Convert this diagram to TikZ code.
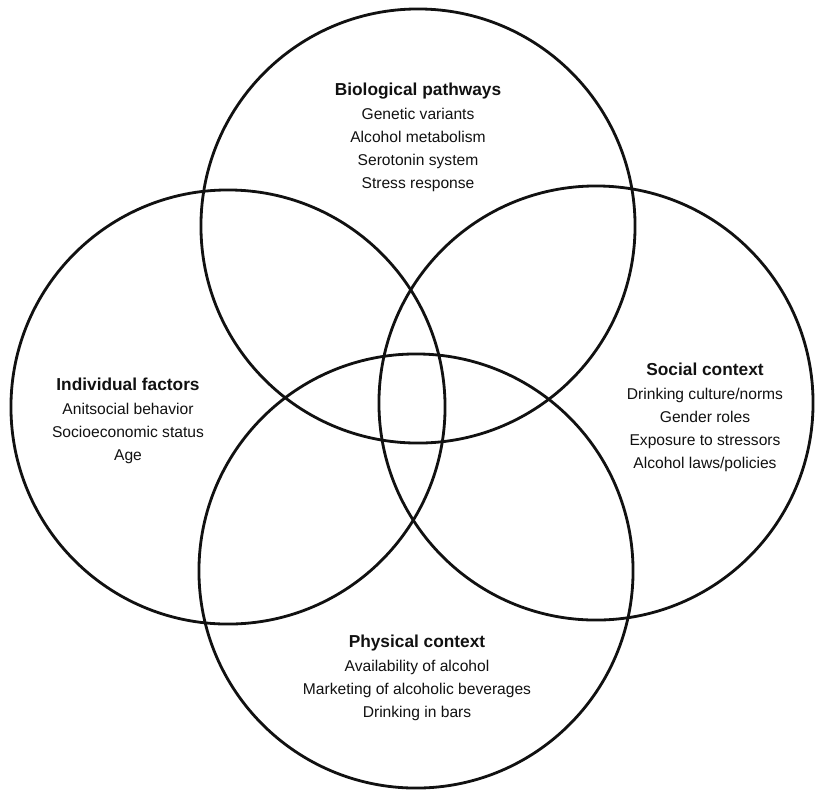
\documentclass[tikz,border=0pt]{standalone}
\usepackage{fontspec}
\setmainfont{Liberation Sans}
\usepackage{tikz}
\usetikzlibrary{positioning}
\definecolor{cRing}{HTML}{111111}
\definecolor{cText}{HTML}{111111}
\tikzset{
  ring/.style={
    draw=cRing, circle, line width=2pt,
    minimum size=10.85cm, inner sep=0pt,
  },
  factors/.style={
    align=center, anchor=north, inner sep=0pt, text=cText,
    font=\fontsize{11.1}{16.5}\selectfont,
  },
}
\newcommand{\grouphead}[1]{{\bfseries\fontsize{12.3}{16.5}\selectfont #1}}

\begin{document}
\begin{tikzpicture}[x=0.025cm, y=-0.025cm]

% ═══════════════════════════════════════════════════════════════
%  FRAME  (pixel units, y downwards)
% ═══════════════════════════════════════════════════════════════
\useasboundingbox (0,0) rectangle (815,792);

% ═══════════════════════════════════════════════════════════════
%  RINGS
% ═══════════════════════════════════════════════════════════════
\node[ring] (bio)  at (418,226) {};
\node[ring] (indiv) at (228,407) {};
\node[ring] (social) at (596,403) {};
\node[ring] (phys) at (416,571) {};

% ═══════════════════════════════════════════════════════════════
%  LABELS
% ═══════════════════════════════════════════════════════════════
\node[factors] (bioText) at (418,83)
  {\grouphead{Biological pathways}\\ Genetic variants\\ Alcohol metabolism\\
   Serotonin system\\ Stress response};
\node[factors] (indivText) at (128,378)
  {\grouphead{Individual factors}\\ Anitsocial behavior\\ Socioeconomic status\\ Age};
\node[factors] (socialText) at (705,363)
  {\grouphead{Social context}\\ Drinking culture/norms\\ Gender roles\\
   Exposure to stressors\\ Alcohol laws/policies};
\node[factors] (physText) at (417,635)
  {\grouphead{Physical context}\\ Availability of alcohol\\
   Marketing of alcoholic beverages\\ Drinking in bars};

\end{tikzpicture}
\end{document}
